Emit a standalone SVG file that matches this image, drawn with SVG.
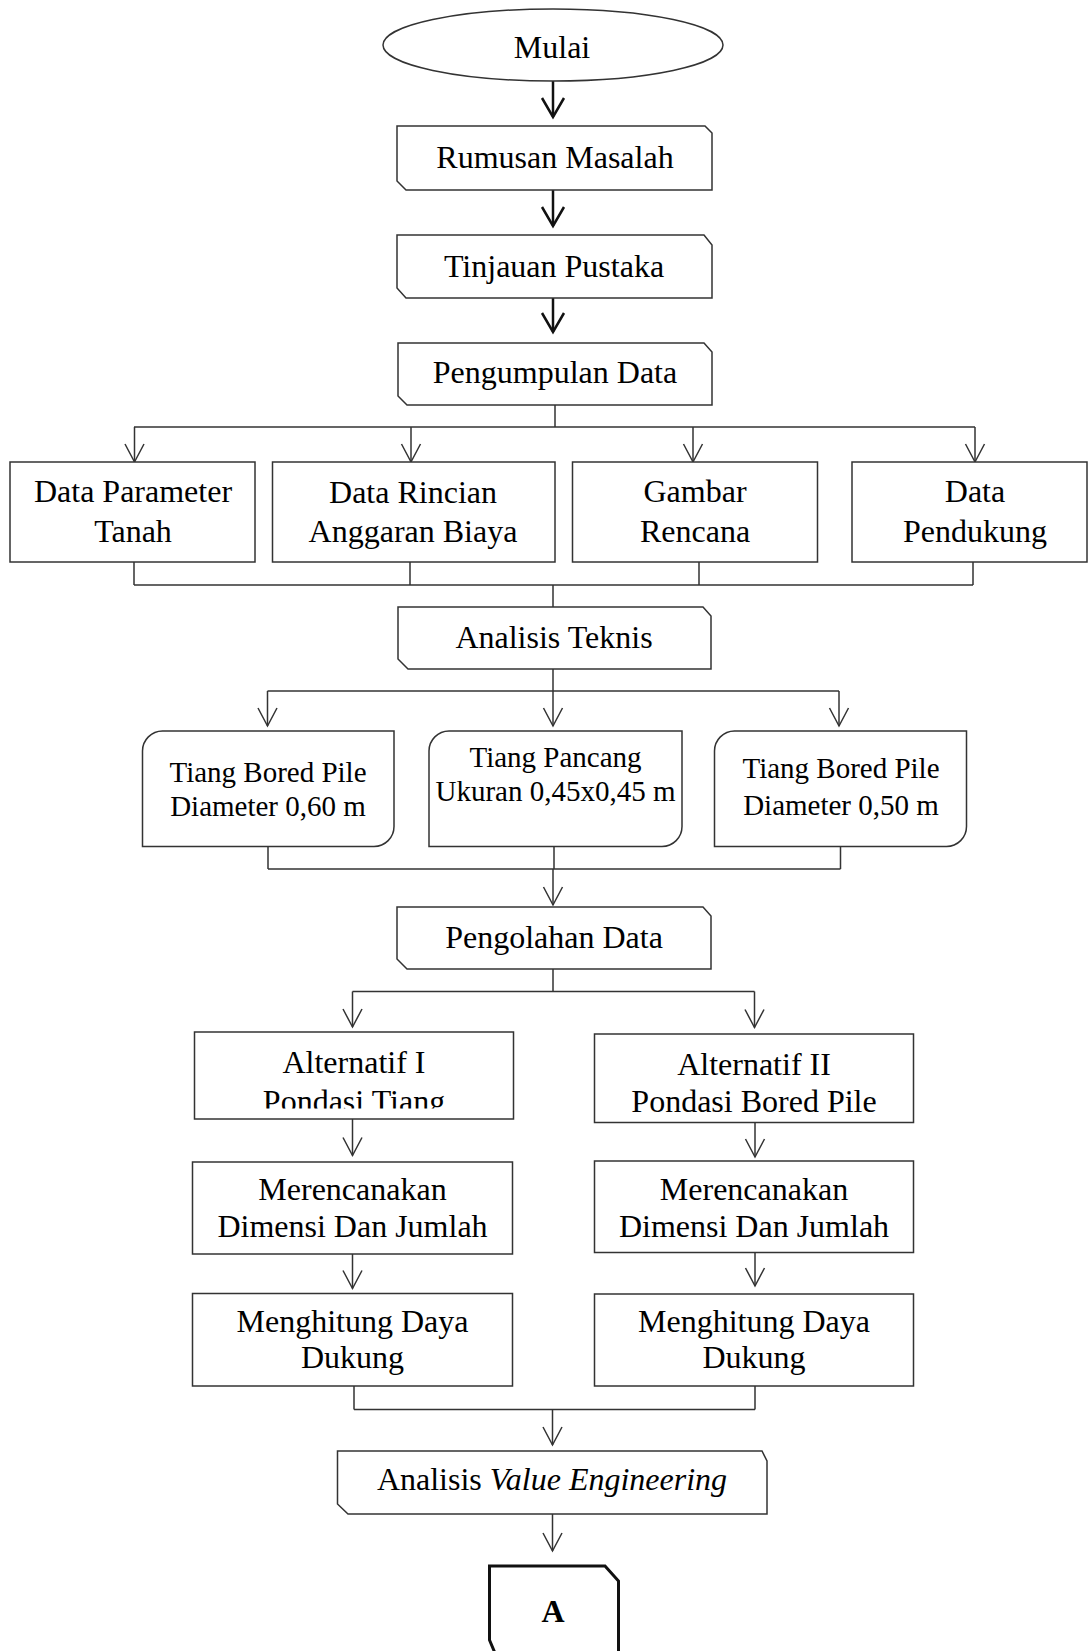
<svg xmlns="http://www.w3.org/2000/svg" width="1089" height="1651" viewBox="0 0 1089 1651">
  <style>
    .box { fill: #fff; stroke: #333; stroke-width: 1.5; }
    .boxA { fill: #fff; stroke: #111; stroke-width: 3; }
    .ln { fill: none; stroke: #333; stroke-width: 1.5; }
    .lnb { fill: none; stroke: #111; stroke-width: 2.5; }
    .t { font-family: "Liberation Serif", "Times New Roman", serif; font-size: 32px; fill: #000; text-anchor: middle; }
    .ts { font-family: "Liberation Serif", "Times New Roman", serif; font-size: 29px; fill: #000; text-anchor: middle; }
    .tb { font-family: "Liberation Serif", "Times New Roman", serif; font-size: 32px; font-weight: bold; fill: #000; text-anchor: middle; }
  </style>
  <defs>
    <marker id="arr" markerUnits="userSpaceOnUse" viewBox="-20 -12 24 24" markerWidth="24" markerHeight="24" refX="0" refY="0" orient="auto" overflow="visible">
      <path d="M-18,-9.5 L0,0 L-18,9.5" fill="none" stroke="#333" stroke-width="1.5"/>
    </marker>
    <marker id="arrB" markerUnits="userSpaceOnUse" viewBox="-22 -13 26 26" markerWidth="26" markerHeight="26" refX="0" refY="0" orient="auto" overflow="visible">
      <path d="M-19,-11 L0,0 L-19,11" fill="none" stroke="#111" stroke-width="2.5"/>
    </marker>
    <clipPath id="clipAlt1">
      <rect x="194" y="1032" width="319" height="76.5"/>
    </clipPath>
  </defs>

  <!-- connectors -->
  <g id="connectors">
    <path class="lnb" d="M553,81 V117" marker-end="url(#arrB)"/>
    <path class="lnb" d="M553,190 V226" marker-end="url(#arrB)"/>
    <path class="lnb" d="M553,298 V332" marker-end="url(#arrB)"/>

    <!-- data collection split -->
    <path class="ln" d="M555,405 V427 M134,427 H975"/>
    <path class="ln" d="M134.5,427 V462" marker-end="url(#arr)"/>
    <path class="ln" d="M411,427 V462" marker-end="url(#arr)"/>
    <path class="ln" d="M693,427 V462" marker-end="url(#arr)"/>
    <path class="ln" d="M975,427 V462" marker-end="url(#arr)"/>

    <!-- data merge -->
    <path class="ln" d="M134,562 V585 M410,562 V585 M699,562 V585 M973,562 V585 M134,585 H973 M553,585 V607"/>

    <!-- technical analysis split -->
    <path class="ln" d="M267.5,691 H839"/>
    <path class="ln" d="M553,669 V726" marker-end="url(#arr)"/>
    <path class="ln" d="M267.5,691 V726" marker-end="url(#arr)"/>
    <path class="ln" d="M839,691 V726" marker-end="url(#arr)"/>

    <!-- pile merge -->
    <path class="ln" d="M268,846 V869 M554,846 V869 M840.5,846 V869 M268,869 H840.5"/>
    <path class="ln" d="M553,869 V905" marker-end="url(#arr)"/>

    <!-- processing split -->
    <path class="ln" d="M553,969 V991.5 M352.5,991.5 H754.5"/>
    <path class="ln" d="M352.5,991.5 V1027" marker-end="url(#arr)"/>
    <path class="ln" d="M754.5,991.5 V1027.5" marker-end="url(#arr)"/>

    <!-- alternative columns -->
    <path class="ln" d="M352.5,1119 V1155.5" marker-end="url(#arr)"/>
    <path class="ln" d="M352.5,1254 V1288.5" marker-end="url(#arr)"/>
    <path class="ln" d="M755,1122.5 V1157" marker-end="url(#arr)"/>
    <path class="ln" d="M755,1252.5 V1286" marker-end="url(#arr)"/>

    <!-- alternatives merge -->
    <path class="ln" d="M354,1386 V1409.5 M755,1386 V1409.5 M354,1409.5 H755"/>
    <path class="ln" d="M552.5,1409.5 V1445" marker-end="url(#arr)"/>
    <path class="ln" d="M552.5,1514 V1551" marker-end="url(#arr)"/>
  </g>

  <!-- start -->
  <g id="mulai">
    <ellipse class="box" cx="553" cy="45" rx="170" ry="36"/>
    <text class="t" x="552" y="58">Mulai</text>
  </g>

  <g id="rumusan">
    <path class="box" d="M397,126 H705 L712,133 V190 H406 L397,181 Z"/>
    <text class="t" x="555" y="168">Rumusan Masalah</text>
  </g>

  <g id="tinjauan">
    <path class="box" d="M397,235 H704 L712,245 V298 H406 L397,288 Z"/>
    <text class="t" x="554" y="277">Tinjauan Pustaka</text>
  </g>

  <g id="pengumpulan">
    <path class="box" d="M398,343 H704 L712,352 V405 H407 L398,396 Z"/>
    <text class="t" x="555" y="383">Pengumpulan Data</text>
  </g>

  <g id="data-tanah">
    <rect class="box" x="10" y="462" width="245" height="100"/>
    <text class="t" x="133" y="502">Data Parameter</text>
    <text class="t" x="133" y="542">Tanah</text>
  </g>

  <g id="data-rab">
    <rect class="box" x="272.5" y="462" width="282.5" height="100"/>
    <text class="t" x="413" y="503">Data Rincian</text>
    <text class="t" x="413" y="542">Anggaran Biaya</text>
  </g>

  <g id="gambar-rencana">
    <rect class="box" x="572.5" y="462" width="245" height="100"/>
    <text class="t" x="695" y="502">Gambar</text>
    <text class="t" x="695" y="542">Rencana</text>
  </g>

  <g id="data-pendukung">
    <rect class="box" x="852" y="462" width="235" height="100"/>
    <text class="t" x="975" y="502">Data</text>
    <text class="t" x="975" y="542">Pendukung</text>
  </g>

  <g id="analisis-teknis">
    <path class="box" d="M398,607 H703 L711,616 V669 H408 L398,659 Z"/>
    <text class="t" x="554" y="648">Analisis Teknis</text>
  </g>

  <g id="bored-060">
    <path class="box" d="M162.5,731 H394 V826.5 A20,20 0 0 1 374,846.5 H142.5 V751 A20,20 0 0 1 162.5,731 Z"/>
    <text class="ts" x="268" y="782">Tiang Bored Pile</text>
    <text class="ts" x="268" y="816">Diameter 0,60 m</text>
  </g>

  <g id="tiang-pancang">
    <path class="box" d="M449,731 H682 V826.5 A20,20 0 0 1 662,846.5 H429 V751 A20,20 0 0 1 449,731 Z"/>
    <text class="ts" x="555.5" y="767">Tiang Pancang</text>
    <text class="ts" x="555.5" y="801">Ukuran 0,45x0,45 m</text>
  </g>

  <g id="bored-050">
    <path class="box" d="M734.5,731 H966.5 V826.5 A20,20 0 0 1 946.5,846.5 H714.5 V751 A20,20 0 0 1 734.5,731 Z"/>
    <text class="ts" x="841" y="778">Tiang Bored Pile</text>
    <text class="ts" x="841" y="815">Diameter 0,50 m</text>
  </g>

  <g id="pengolahan">
    <path class="box" d="M397,907 H703 L711,916 V969 H407 L397,959 Z"/>
    <text class="t" x="554" y="948">Pengolahan Data</text>
  </g>

  <g id="alternatif-1">
    <rect class="box" x="194.5" y="1032" width="319" height="87"/>
    <g clip-path="url(#clipAlt1)">
      <text class="t" x="354" y="1073">Alternatif I</text>
      <text class="t" x="354" y="1112">Pondasi Tiang</text>
    </g>
  </g>

  <g id="alternatif-2">
    <rect class="box" x="594.5" y="1034" width="319" height="88.5"/>
    <text class="t" x="754" y="1075">Alternatif II</text>
    <text class="t" x="754" y="1112">Pondasi Bored Pile</text>
  </g>

  <g id="merencanakan-1">
    <rect class="box" x="192.5" y="1162" width="320" height="92"/>
    <text class="t" x="352.5" y="1200">Merencanakan</text>
    <text class="t" x="352.5" y="1237">Dimensi Dan Jumlah</text>
  </g>

  <g id="merencanakan-2">
    <rect class="box" x="594.5" y="1161" width="319" height="91.5"/>
    <text class="t" x="754" y="1200">Merencanakan</text>
    <text class="t" x="754" y="1237">Dimensi Dan Jumlah</text>
  </g>

  <g id="menghitung-1">
    <rect class="box" x="192.5" y="1293.5" width="320" height="92.5"/>
    <text class="t" x="352.5" y="1332">Menghitung Daya</text>
    <text class="t" x="352.5" y="1368">Dukung</text>
  </g>

  <g id="menghitung-2">
    <rect class="box" x="594.5" y="1294" width="319" height="92"/>
    <text class="t" x="754" y="1332">Menghitung Daya</text>
    <text class="t" x="754" y="1368">Dukung</text>
  </g>

  <g id="analisis-ve">
    <path class="box" d="M337.5,1451 H762 L767,1461 V1514 H348 L337.5,1504 Z"/>
    <text class="t" x="552" y="1490">Analisis <tspan font-style="italic">Value Engineering</tspan></text>
  </g>

  <g id="konektor-a">
    <path class="boxA" d="M489.5,1566 H605 L618.5,1581 V1665 H500 L489.5,1640 Z"/>
    <text class="tb" x="553" y="1622">A</text>
  </g>
</svg>
